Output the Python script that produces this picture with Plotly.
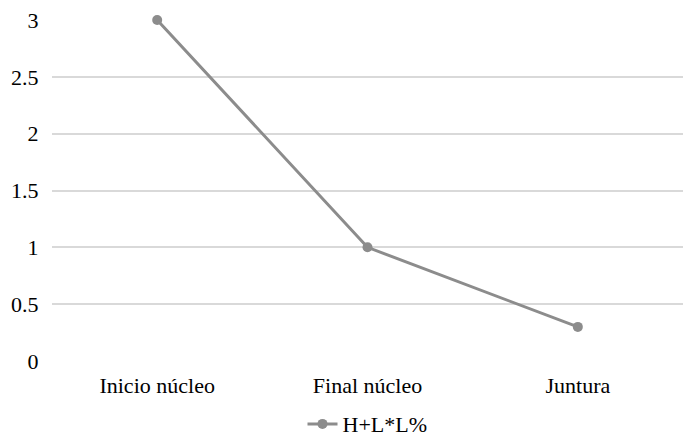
import plotly.graph_objects as go

categories = ["Inicio núcleo", "Final núcleo", "Juntura"]
values = [3, 1, 0.3]
series_name = "H+L*L%"
y_ticks = [0, 0.5, 1, 1.5, 2, 2.5, 3]
y_tick_labels = ["0", "0.5", "1", "1.5", "2", "2.5", "3"]

fig = go.Figure()
fig.add_trace(go.Scatter(
    x=categories, y=values, name=series_name, mode="lines+markers",
    line=dict(color="#8c8c8c", width=3),
    marker=dict(color="#8c8c8c", size=10),
    cliponaxis=False,
))

fig.update_layout(
    width=700, height=447,
    margin=dict(l=52, r=17, t=20, b=86, autoexpand=False),
    paper_bgcolor="white", plot_bgcolor="white",
    font=dict(family="Liberation Serif", size=22, color="black"),
    showlegend=True,
    legend=dict(orientation="h", x=0.5, xanchor="center", y=-0.185, yanchor="middle",
                font=dict(size=22)),
    xaxis=dict(range=[-0.5, 2.5], showgrid=False, zeroline=False, showline=False,
               automargin=False,
               ticks="outside", ticklen=5, tickcolor="rgba(0,0,0,0)"),
    yaxis=dict(range=[0, 3], tickvals=y_ticks, ticktext=y_tick_labels,
               showgrid=True, gridcolor="#d9d9d9", gridwidth=1.5,
               zeroline=False, showline=False, automargin=False,
               ticks="outside", ticklen=8, tickcolor="rgba(0,0,0,0)"),
)

fig.write_html("out.html", config={"displayModeBar": False},
               post_script="document.body.style.margin='0';")
